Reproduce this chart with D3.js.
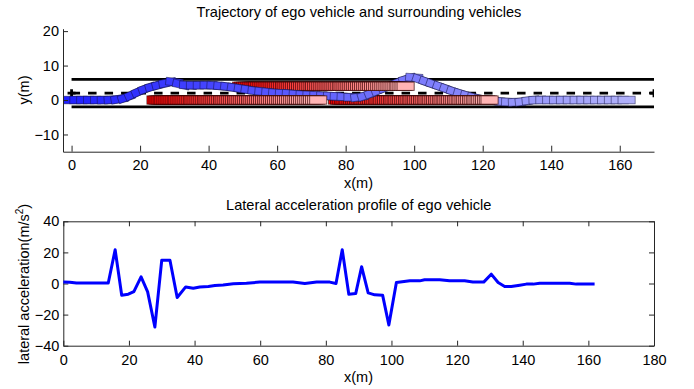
<!DOCTYPE html>
<html>
<head>
<meta charset="utf-8">
<script src="https://cdn.jsdelivr.net/npm/d3@7"></script>
<style>
  body { margin: 0; background: #fff; }
  svg { font-family: "Liberation Sans", Arial, sans-serif; }
  .axis path, .axis line { stroke: #262626; }
  .axis text { fill: #000; font-size: 14.5px; }
</style>
</head>
<body>
<svg id="chart" width="694" height="389"></svg>
<script>
// ego vehicle path (m)
const egoX = [0, 2, 4, 6, 8, 10, 12, 14, 16, 18, 20, 22, 24, 26, 28, 30, 32, 34, 36, 38,
  40, 42, 44, 46, 48, 50, 52, 54, 56, 58, 60, 62, 64, 66, 68, 70, 72, 74, 76, 78,
  80, 82, 84, 86, 88, 90, 92, 94, 96, 98, 100, 102, 104, 106, 108, 110, 112, 114, 116, 118,
  120, 122, 124, 126, 128, 130, 132, 134, 136, 138, 140, 142, 144, 146, 148, 150, 152, 154, 156, 158,
  160, 162];
const egoY = [0, 0, 0, 0, 0, 0, 0.1, 0.3, 0.8, 1.7, 2.6, 3.4, 4.0, 4.5, 5.0, 5.2, 4.5, 4.3, 4.3, 4.3,
  4.3, 4.2, 4.0, 3.8, 3.5, 3.2, 2.9, 2.6, 2.4, 2.2, 2.0, 1.9, 1.8, 1.6, 1.5, 1.4, 1.3, 1.2, 1.1, 1.0,
  0.9, 0.8, 0.9, 1.4, 2.2, 3.0, 3.8, 4.6, 5.4, 6.1, 6.5, 5.8, 5.1, 4.4, 3.7, 3.0, 2.3, 1.7, 1.1, 0.6,
  0.2, -0.1, -0.3, -0.5, -0.6, -0.6, -0.4, -0.1, 0, 0, 0, 0, 0, 0, 0, 0, 0, 0, 0, 0,
  0, 0];

// surrounding vehicles: x per time step, fixed lane y
const carAX = [24.5, 25.1, 25.7, 26.3, 26.8, 27.4, 28.0, 28.6, 29.2, 29.8, 30.4, 30.9, 31.5, 32.1, 32.7, 33.3,
  33.9, 34.5, 35.1, 35.6, 36.2, 36.8, 37.4, 38.0, 38.6, 39.2, 39.7, 40.3, 40.9, 41.5, 42.1, 42.7, 43.3, 43.9,
  44.4, 45.0, 45.6, 46.2, 46.8, 47.4, 48.0, 48.5, 49.1, 49.7, 50.3, 50.9, 51.5, 52.1, 52.6, 53.2, 53.8, 54.4,
  55.0, 55.6, 56.2, 56.8, 57.3, 57.9, 58.5, 59.1, 59.7, 60.3, 60.9, 61.4, 62.0, 62.6, 63.2, 63.8, 64.4, 65.0,
  65.6, 66.1, 66.7, 67.3, 67.9, 68.5, 69.1, 69.7, 70.2, 70.8, 71.4, 72.0];
const carAY = 0;
const carBX = [77.5, 78.1, 78.6, 79.2, 79.7, 80.3, 80.8, 81.4, 81.9, 82.5, 83.0, 83.6, 84.1, 84.7, 85.2, 85.8,
  86.3, 86.9, 87.4, 88.0, 88.5, 89.1, 89.6, 90.2, 90.7, 91.3, 91.8, 92.4, 92.9, 93.5, 94.0, 94.6, 95.1, 95.7,
  96.2, 96.8, 97.3, 97.9, 98.4, 99.0, 99.5, 100.1, 100.6, 101.2, 101.7, 102.3, 102.8, 103.4, 103.9, 104.5,
  105.0, 105.6, 106.1, 106.7, 107.2, 107.8, 108.3, 108.9, 109.4, 110.0, 110.5, 111.1, 111.6, 112.2, 112.7,
  113.3, 113.8, 114.4, 114.9, 115.5, 116.0, 116.6, 117.1, 117.7, 118.2, 118.8, 119.3, 119.9, 120.4, 121.0,
  121.5, 122.0];
const carBY = 0;
const carCX = [49.5, 50.1, 50.7, 51.3, 51.9, 52.5, 53.1, 53.7, 54.2, 54.8, 55.4, 56.0, 56.6, 57.2, 57.8, 58.4,
  59.0, 59.6, 60.2, 60.8, 61.4, 62.0, 62.5, 63.1, 63.7, 64.3, 64.9, 65.5, 66.1, 66.7, 67.3, 67.9, 68.5, 69.1,
  69.7, 70.3, 70.8, 71.4, 72.0, 72.6, 73.2, 73.8, 74.4, 75.0, 75.6, 76.2, 76.8, 77.4, 78.0, 78.6, 79.1, 79.7,
  80.3, 80.9, 81.5, 82.1, 82.7, 83.3, 83.9, 84.5, 85.1, 85.7, 86.3, 86.9, 87.4, 88.0, 88.6, 89.2, 89.8, 90.4,
  91.0, 91.6, 92.2, 92.8, 93.4, 94.0, 94.6, 95.2, 95.7, 96.3, 96.9, 97.5];
const carCY = 4;

// lane markings
const laneSolidY = [6, -2];
const laneDashY = 2;
const laneEnds = [0, 170];

// lateral acceleration profile
const accX = [0, 2, 4, 6, 8, 10, 12, 13.7, 15.8, 17.8, 19.8, 21.5, 23.7, 25.7, 27.9, 30, 32.5, 34.7, 37.3, 39.6,
  41.6, 44.2, 46.2, 48.7, 51.8, 55.8, 59.9, 65, 70, 73.6, 77.2, 81.2, 83.1, 85, 87, 89.1, 90.9, 92.9, 94.9, 97.3,
  99.2, 101.5, 105.6, 108.6, 110.1, 114.7, 117.7, 122.3, 124.8, 128.1, 130.4, 132.5, 134.5, 136.5, 139.1, 141.1,
  143.2, 145.2, 154.3, 156.3, 161.9];
const accY = [1, 0.8, 0.3, 0.3, 0.3, 0.3, 0.3, 0.3, 21.7, -7.5, -6.9, -5.2, 4.3, -5.4, -28, 15, 15, -9, -2.2, -3,
  -2.2, -1.9, -1.3, -1, -0.2, 0.2, 0.9, 0.9, 0.9, 0, 0.9, 0.9, 0, 21.7, -6.9, -6.5, 10.8, -6, -7.3, -7.5,
  -26.7, 0.6, 1.7, 1.7, 2.4, 2.4, 1.7, 1.7, 0.9, 0.9, 6, 0.6, -1.9, -1.9, -1.1, -0.4,
  -0.4, 0.2, 0.2, -0.4, -0.4];

const trajXTicks = [0, 20, 40, 60, 80, 100, 120, 140, 160];
const trajYTicks = [-10, 0, 10, 20];
const accXTicks = [0, 20, 40, 60, 80, 100, 120, 140, 160, 180];
const accYTicks = [-40, -20, 0, 20, 40];

const carLen = 5, egoWid = 2.2, carWid = 2.4;
const fs = 14.5;

const svg = d3.select('#chart');

// ---------- top: trajectory ----------
const xT = d3.scaleLinear().domain([-2.5, 170]).range([63, 654]);
const yT = d3.scaleLinear().domain([-15, 20.7]).range([151.7, 28.7]);
const kx = xT(1) - xT(0), ky = yT(0) - yT(1);

svg.append('clipPath').attr('id', 'clipT')
  .append('rect').attr('x', 63).attr('y', 28.7).attr('width', 591).attr('height', 123);

const plotT = svg.append('g').attr('clip-path', 'url(#clipT)');

// lanes
laneSolidY.forEach(v => {
  plotT.append('line')
    .attr('x1', xT(laneEnds[0])).attr('x2', xT(laneEnds[1]))
    .attr('y1', yT(v)).attr('y2', yT(v))
    .attr('stroke', '#000').attr('stroke-width', 2.6);
});
plotT.append('line')
  .attr('x1', xT(laneEnds[0])).attr('x2', xT(laneEnds[1]))
  .attr('y1', yT(laneDashY)).attr('y2', yT(laneDashY))
  .attr('stroke', '#000').attr('stroke-width', 2.8)
  .attr('stroke-dasharray', '8.5,8');
laneEnds.forEach(v => {
  plotT.append('path')
    .attr('d', `M${xT(v) - 4},${yT(laneDashY)}h8M${xT(v)},${yT(laneDashY) - 4}v8`)
    .attr('stroke', '#000').attr('stroke-width', 2.8);
});

function heading(xs, ys, i) {
  const a = Math.max(0, i - 1), b = Math.min(xs.length - 1, i + 1);
  return Math.atan2(-(ys[b] - ys[a]) * ky, (xs[b] - xs[a]) * kx) * 180 / Math.PI;
}

const redColor = d3.interpolateRgb('#ff0000', '#ffb4b4');
const blueColor = d3.interpolateRgb('#2020ff', '#b0b0fa');

const cars = [
  { xs: carAX, y: carAY },
  { xs: carBX, y: carBY },
  { xs: carCX, y: carCY }
];

const steps = Math.max(egoX.length, carAX.length, carBX.length, carCX.length);
for (let t = 0; t < steps; t++) {
  cars.forEach(c => {
    if (t >= c.xs.length) return;
    const f = t / (c.xs.length - 1);
    plotT.append('rect')
      .attr('x', xT(c.xs[t] - carLen / 2)).attr('y', yT(c.y + carWid / 2))
      .attr('width', carLen * kx).attr('height', carWid * ky)
      .attr('fill', redColor(f))
      .attr('stroke', '#300000').attr('stroke-opacity', 0.75).attr('stroke-width', 0.9);
  });
  if (t < egoX.length) {
    const f = t / (egoX.length - 1);
    const col = blueColor(f);
    plotT.append('rect')
      .attr('x', -carLen * kx / 2).attr('y', -egoWid * ky / 2)
      .attr('width', carLen * kx).attr('height', egoWid * ky)
      .attr('transform', `translate(${xT(egoX[t])},${yT(egoY[t])}) rotate(${heading(egoX, egoY, t)})`)
      .attr('fill', col)
      .attr('stroke', '#101040').attr('stroke-opacity', 0.6).attr('stroke-width', 0.8);
  }
}

svg.append('g').attr('class', 'axis')
  .attr('transform', 'translate(0,151.7)')
  .call(d3.axisBottom(xT).tickValues(trajXTicks).tickSizeInner(-6).tickSizeOuter(0).tickPadding(8));
svg.append('g').attr('class', 'axis')
  .attr('transform', 'translate(63,0)')
  .call(d3.axisLeft(yT).tickValues(trajYTicks).tickSizeInner(-5).tickSizeOuter(0).tickPadding(4));

svg.append('text').attr('x', 359).attr('y', 17).attr('text-anchor', 'middle')
  .attr('font-size', 14.6).text('Trajectory of ego vehicle and surrounding vehicles');
svg.append('text').attr('x', 358.5).attr('y', 188).attr('text-anchor', 'middle')
  .attr('font-size', fs).text('x(m)');
svg.append('text').attr('transform', 'translate(29,90) rotate(-90)').attr('text-anchor', 'middle')
  .attr('font-size', fs).text('y(m)');

// ---------- bottom: lateral acceleration ----------
const xA = d3.scaleLinear().domain([0, 180]).range([63.3, 654]);
const yA = d3.scaleLinear().domain([-40, 40]).range([345.7, 221.3]);

svg.append('g').attr('class', 'axis')
  .attr('transform', 'translate(0,345.7)')
  .call(d3.axisBottom(xA).tickValues(accXTicks).tickSizeInner(-5).tickSizeOuter(0).tickPadding(9));
svg.append('g').attr('class', 'axis')
  .attr('transform', 'translate(0,221.3)')
  .call(d3.axisTop(xA).tickValues(accXTicks).tickSizeInner(-5).tickSizeOuter(0).tickFormat(''));
svg.append('g').attr('class', 'axis')
  .attr('transform', 'translate(63.3,0)')
  .call(d3.axisLeft(yA).tickValues(accYTicks).tickSizeInner(-5).tickSizeOuter(0).tickPadding(4));
svg.append('g').attr('class', 'axis')
  .attr('transform', 'translate(654,0)')
  .call(d3.axisRight(yA).tickValues(accYTicks).tickSizeInner(-5).tickSizeOuter(0).tickFormat(''));

svg.append('path')
  .datum(accX.map((x, i) => [x, accY[i]]))
  .attr('d', d3.line().x(d => xA(d[0])).y(d => yA(d[1])))
  .attr('fill', 'none').attr('stroke', '#0000ff').attr('stroke-width', 3)
  .attr('stroke-linejoin', 'round');

svg.append('text').attr('x', 358.7).attr('y', 210).attr('text-anchor', 'middle')
  .attr('font-size', 14.6).text('Lateral acceleration profile of ego vehicle');
svg.append('text').attr('x', 358.5).attr('y', 382).attr('text-anchor', 'middle')
  .attr('font-size', fs).text('x(m)');
const yl = svg.append('text').attr('transform', 'translate(29,284) rotate(-90)')
  .attr('text-anchor', 'middle').attr('font-size', fs);
yl.append('tspan').text('lateral acceleration(m/s');
yl.append('tspan').attr('dy', -6).attr('font-size', 10).text('2');
yl.append('tspan').attr('dy', 6).text(')');
</script>
</body>
</html>
